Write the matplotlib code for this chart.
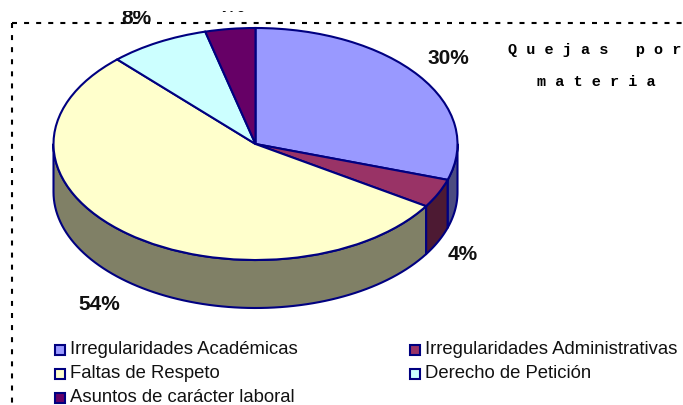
import numpy as np
import matplotlib
matplotlib.use('Agg')
import matplotlib.pyplot as plt
from matplotlib.patches import Rectangle
from matplotlib.transforms import Bbox

categorias = ['Irregularidades Académicas', 'Irregularidades Administrativas',
              'Faltas de Respeto', 'Derecho de Petición', 'Asuntos de carácter laboral']
valores = [30, 4, 54, 8, 4]
etiquetas = ['30%', '4%', '54%', '8%', '4%']
colores = ['#9999FF', '#993366', '#FFFFCC', '#CCFFFF', '#660066']
colores_lado = ['#4C4C80', '#4D1A33', '#808066', '#668080', '#330033']
pos_etiquetas = [(448, 58), (463, 254), (99, 305), (136, 19), (231, 7)]
borde = '#000080'

# pixeles de la elipse
cx, cy, rx, ry, alto = 255.5, 144, 202, 116, 48

plt.rcParams['font.family'] = 'Liberation Sans'
fig = plt.figure(figsize=(6.83, 4.05), dpi=100)
ax = fig.add_axes([0, 0, 1, 1])
px = fig.add_axes([0, 0, 1, 1])
px.set_xlim(0, 683)
px.set_ylim(405, 0)
px.axis('off')
px.patch.set_alpha(0)

# lados del pastel, solo la mitad de adelante
h = alto / ry
acum = np.cumsum([0] + valores) / sum(valores) * 360
for i in range(len(valores)):
    a0 = max(acum[i], 90)
    a1 = min(acum[i + 1], 270)
    if a1 <= a0:
        continue
    t = np.radians(np.linspace(a0, a1, 80))
    xs = np.concatenate([np.sin(t), np.sin(t[::-1])])
    ys = np.concatenate([np.cos(t), np.cos(t[::-1]) - h])
    ax.fill(xs, ys, facecolor=colores_lado[i], edgecolor=borde, linewidth=1.5, joinstyle='round')

ax.pie(valores, colors=colores, startangle=90, counterclock=False, radius=1,
       wedgeprops={'edgecolor': borde, 'linewidth': 1.5})
ax.set_aspect('auto')
ax.set_xlim(-cx / rx, (683 - cx) / rx)
ax.set_ylim(-(405 - cy) / ry, cy / ry)

# recuadro punteado
px.plot([12, 683], [23, 23], color='black', lw=1.5, dashes=(2.4, 3.4))
px.plot([12, 12], [23, 405], color='black', lw=1.5, dashes=(2.4, 3.4))

# las etiquetas de arriba salen cortadas (caja en pixeles de la figura)
corte = Bbox.from_extents(0, 0, 683, 405 - 11)
for txt, (x, y) in zip(etiquetas, pos_etiquetas):
    t = px.text(x, y, txt, fontsize=15, fontweight='bold', ha='center', va='center', color='#111111')
    t.set_clip_box(corte)
    t.set_clip_on(True)

px.text(595, 50, 'Q u e j a s   p o r', family='Liberation Mono', fontweight='bold',
        fontsize=11, ha='center', va='center')
px.text(596, 82, 'm a t e r i a', family='Liberation Mono', fontweight='bold',
        fontsize=11, ha='center', va='center')

# leyenda a mano
filas = [(55, 350), (410, 350), (55, 374), (410, 374), (55, 398)]
for (x, y), nombre, c in zip(filas, categorias, colores):
    px.add_patch(Rectangle((x, y - 5), 10, 10, facecolor=c, edgecolor=borde, lw=1.5))
    px.text(x + 15, y, nombre, fontsize=13.3, ha='left', va='center', color='#111111')

fig.savefig('out.png', dpi=100)
